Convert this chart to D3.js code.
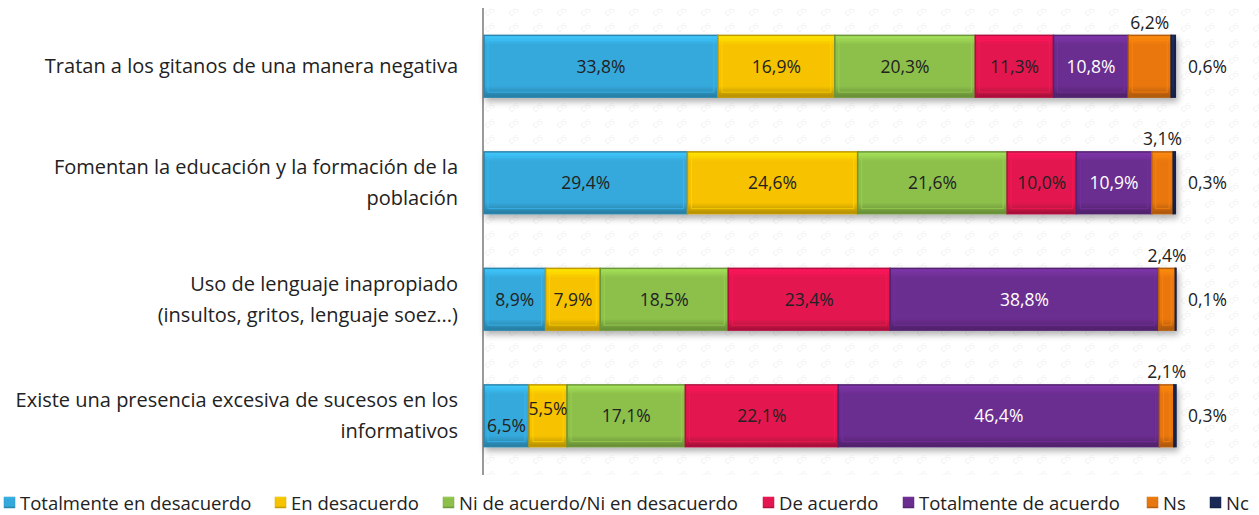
<!DOCTYPE html>
<html>
<head>
  <meta charset="UTF-8">
  <script src="https://d3js.org/d3.v7.min.js"></script>
  <style>
    body { margin: 0; background: #fff; }
    text { font-family: "Open Sans", sans-serif; }
  </style>
</head>
<body>
  <div id="my_dataviz"></div>
  <script>

    // data
    var categories = [
      ["Tratan a los gitanos de una manera negativa"],
      ["Fomentan la educación y la formación de la", "población"],
      ["Uso de lenguaje inapropiado", "(insultos, gritos, lenguaje soez...)"],
      ["Existe una presencia excesiva de sucesos en los", "informativos"]
    ];
    var seriesNames = ["Totalmente en desacuerdo", "En desacuerdo", "Ni de acuerdo/Ni en desacuerdo",
      "De acuerdo", "Totalmente de acuerdo", "Ns", "Nc"];
    var totDesacuerdo = [33.8, 29.4, 8.9, 6.5];
    var enDesacuerdo = [16.9, 24.6, 7.9, 5.5];
    var niNi = [20.3, 21.6, 18.5, 17.1];
    var deAcuerdo = [11.3, 10.0, 23.4, 22.1];
    var totAcuerdo = [10.8, 10.9, 38.8, 46.4];
    var ns = [6.2, 3.1, 2.4, 2.1];
    var nc = [0.6, 0.3, 0.1, 0.3];
    var series = [totDesacuerdo, enDesacuerdo, niNi, deAcuerdo, totAcuerdo, ns, nc];

    var colors = ["#35a9dc", "#f7c300", "#8cc04b", "#e3164f", "#6b2d90", "#e9770f", "#1b2956"];
    var labelColors = ["#222", "#222", "#222", "#222", "#fff", "#222", "#222"];

    var width = 1259, height = 515;
    var svg = d3.select("#my_dataviz").append("svg")
      .attr("width", width)
      .attr("height", height);

    var x = d3.scaleLinear().domain([0, 100]).range([484, 1176]);
    var y = d3.scaleBand()
      .domain(d3.range(categories.length))
      .range([8, 474])
      .paddingInner(0.47)
      .paddingOuter(0.235);

    var defs = svg.append("defs");

    // watermark pattern
    var pat = defs.append("pattern")
      .attr("id", "wm")
      .attr("patternUnits", "userSpaceOnUse")
      .attr("width", 24).attr("height", 16);
    pat.append("text")
      .attr("x", 3).attr("y", 12)
      .attr("transform", "rotate(-35,12,8)")
      .style("font-size", "7px")
      .style("fill", "#ececec")
      .text("CIS");

    svg.append("rect")
      .attr("x", 484).attr("y", 8)
      .attr("width", width - 484).attr("height", 467)
      .attr("fill", "url(#wm)");

    // shading for bevelled bars
    colors.forEach(function (c, i) {
      var g = defs.append("linearGradient")
        .attr("id", "grad" + i)
        .attr("x1", 0).attr("y1", 0).attr("x2", 0).attr("y2", 1);
      g.append("stop").attr("offset", "0%").attr("stop-color", d3.color(c).brighter(0.5));
      g.append("stop").attr("offset", "15%").attr("stop-color", c);
      g.append("stop").attr("offset", "82%").attr("stop-color", c);
      g.append("stop").attr("offset", "100%").attr("stop-color", d3.color(c).darker(0.9));
    });

    var shadow = defs.append("filter").attr("id", "shadow")
      .attr("x", "-5%").attr("y", "-20%").attr("width", "110%").attr("height", "160%");
    shadow.append("feDropShadow")
      .attr("dx", 2).attr("dy", 4).attr("stdDeviation", 3)
      .attr("flood-color", "#000").attr("flood-opacity", 0.3);

    // stack the values
    var rows = categories.map(function (c, r) {
      var start = 0;
      return series.map(function (s, k) {
        var seg = { row: r, k: k, x0: start, x1: start + s[r], v: s[r] };
        start += s[r];
        return seg;
      });
    });

    // axis line
    svg.append("line")
      .attr("x1", 483).attr("x2", 483)
      .attr("y1", 8).attr("y2", 475)
      .attr("stroke", "#9a9a9a")
      .attr("stroke-width", 2);

    var rowG = svg.selectAll(".row")
      .data(rows)
      .enter().append("g")
      .attr("class", "row")
      .attr("filter", "url(#shadow)");

    rowG.selectAll("rect")
      .data(function (d) { return d; })
      .enter().append("rect")
      .attr("x", function (d) { return x(d.x0); })
      .attr("y", function (d) { return y(d.row); })
      .attr("width", function (d) { return x(d.x1) - x(d.x0); })
      .attr("height", y.bandwidth())
      .attr("fill", function (d) { return "url(#grad" + d.k + ")"; })
      .attr("stroke", function (d) { return d3.color(colors[d.k]).darker(0.7); })
      .attr("stroke-width", 1.5);

    // inner bevel outline
    rowG.selectAll(".bevel")
      .data(function (d) { return d.filter(function (s) { return x(s.x1) - x(s.x0) > 10; }); })
      .enter().append("rect")
      .attr("class", "bevel")
      .attr("x", function (d) { return x(d.x0) + 4; })
      .attr("y", function (d) { return y(d.row) + 5; })
      .attr("width", function (d) { return x(d.x1) - x(d.x0) - 8; })
      .attr("height", y.bandwidth() - 10)
      .attr("fill", "none")
      .attr("stroke", function (d) { return d3.color(colors[d.k]).brighter(0.3); })
      .attr("stroke-opacity", 0.7)
      .attr("stroke-width", 1);

    // value labels
    var fmt = function (v) { return v.toFixed(1).replace(".", ",") + "%"; };
    var labelShift = { "3-0": 10, "3-1": -7 };
    var allSegs = d3.merge(rows);

    svg.selectAll(".val")
      .data(allSegs)
      .enter().append("text")
      .attr("class", "val")
      .attr("x", function (d) {
        if (d.k === 6) return x(100) + 12;
        return (x(d.x0) + x(d.x1)) / 2;
      })
      .attr("y", function (d) {
        var cy = y(d.row) + y.bandwidth() / 2;
        if (d.k === 5) return y(d.row) - 13;
        return cy + (labelShift[d.row + "-" + d.k] || 0);
      })
      .attr("dy", "0.36em")
      .attr("text-anchor", function (d) { return d.k === 6 ? "start" : "middle"; })
      .style("font-size", "17.5px")
      .style("fill", function (d) { return labelColors[d.k]; })
      .text(function (d) { return fmt(d.v); });

    // category labels
    var catText = svg.selectAll(".cat")
      .data(categories)
      .enter().append("text")
      .attr("class", "cat")
      .attr("text-anchor", "end")
      .style("font-size", "20px")
      .style("fill", "#222");

    catText.each(function (lines, r) {
      var cy = y(r) + y.bandwidth() / 2;
      var lh = 31;
      var first = cy - (lines.length - 1) * lh / 2;
      d3.select(this).selectAll("tspan")
        .data(lines)
        .enter().append("tspan")
        .attr("x", 458)
        .attr("y", function (d, i) { return first + i * lh; })
        .attr("dy", "0.36em")
        .text(function (d) { return d; });
    });

    // legend
    var legendX = [4, 275, 443, 763, 903, 1147, 1210];
    var leg = svg.selectAll(".leg")
      .data(seriesNames)
      .enter().append("g")
      .attr("class", "leg")
      .attr("transform", function (d, i) { return "translate(" + legendX[i] + ",497)"; });

    leg.append("rect")
      .attr("width", 11).attr("height", 11)
      .attr("fill", function (d, i) { return "url(#grad" + i + ")"; })
      .attr("stroke", function (d, i) { return d3.color(colors[i]).darker(0.4); })
      .attr("stroke-width", 0.5);

    leg.append("text")
      .attr("x", 16).attr("y", 6)
      .attr("dy", "0.36em")
      .style("font-size", "18.5px")
      .style("fill", "#222")
      .text(function (d) { return d; });

  </script>
</body>
</html>
